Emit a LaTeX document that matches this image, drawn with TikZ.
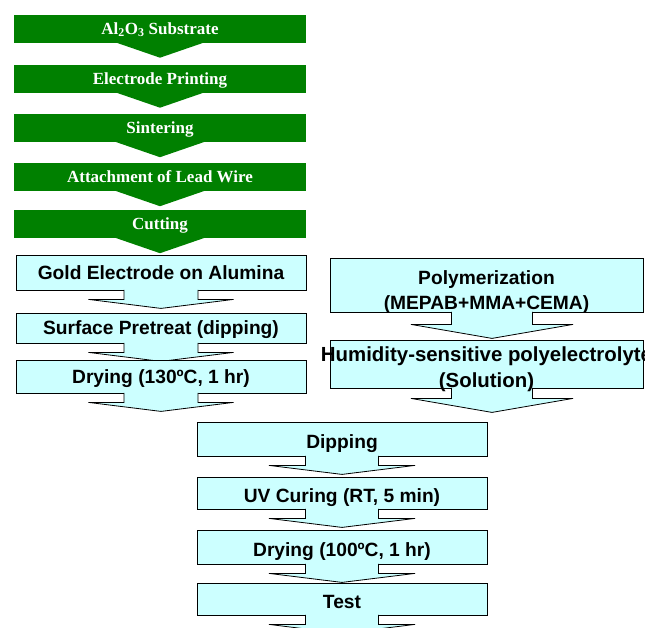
\documentclass[tikz,border=0pt]{standalone}
\usepackage{fontspec}
\setmainfont{Liberation Serif}
\setsansfont{Liberation Sans}
\usepackage[svgnames]{xcolor}
\usetikzlibrary{calc}
\definecolor{StepGreen}{RGB}{0,128,0}
\definecolor{StepCyan}{RGB}{204,255,255}
\tikzstyle{gbox}=[rectangle,fill=StepGreen,minimum width=292pt,minimum height=28pt,inner sep=0pt]
\tikzstyle{gtext}=[text=white,inner sep=0pt,text height=11.3pt,text depth=0pt,font=\fontsize{17}{20}\selectfont\bfseries]
\tikzset{cbox/.style={rectangle,fill=StepCyan,draw=Black,line width=0.8pt,inner sep=0pt},
  ctext/.style={inner sep=0pt,font=\sffamily\bfseries\fontsize{19.2}{25}\selectfont},
  ctextone/.style={ctext,text height=13.75pt,text depth=0pt},
  arrowfill/.style={fill=StepCyan,draw=Black,line width=0.8pt,line join=miter}
}
% block arrow under a box: anchor, stem half width, wing half width, stem drop, tip drop
\newcommand{\callout}[5]{%
  \filldraw[arrowfill] ($(#1)+(-#2,-0.6)$) -- ($(#1)+(-#2,#4)$) -- ($(#1)+(-#3,#4)$)
    -- ($(#1)+(0,#5)$) -- ($(#1)+(#3,#4)$) -- ($(#1)+(#2,#4)$) -- ($(#1)+(#2,-0.6)$);}

\begin{document}
\begin{tikzpicture}[x=1pt,y=-1pt]
  \useasboundingbox (0,0) rectangle (645,627);
  \clip (0,0) rectangle (645,627);

  % substrate preparation
  \foreach \y/\txt [count=\i] in {28.5/{Al\textsubscript{2}O\textsubscript{3} Substrate},78.5/{Electrode Printing},128/{Sintering},177/{Attachment of Lead Wire},224/{Cutting}}
  {
    \node [gbox] (G\i) at (160,\y) {};
    \fill [StepGreen] ($(G\i.south)+(-45,-0.5)$) -- ($(G\i.south)+(0,15)$) -- ($(G\i.south)+(45,-0.5)$) -- cycle;
    \node [gtext] (GT\i) at (G\i.center) {\txt};
  }

  % electrode
  \foreach \y/\h/\txt [count=\i] in {272.5/35/{Gold Electrode on Alumina},328/30/{Surface Pretreat (dipping)},376.5/33/{Drying (130ºC, 1 hr)}}
  {
    \node [cbox,minimum width=290pt,minimum height=\h pt] (L\i) at (161,\y) {};
    \callout{L\i.south}{37}{72.5}{9}{18}
    \node [ctextone] (LT\i) at (L\i.center) {\txt};
  }

  % polyelectrolyte
  \node [cbox,minimum width=313pt,minimum height=54pt] (P) at (486.5,285) {};
  \coordinate (Ps) at ($(P.south)+(5.5,0)$);
  \callout{Ps}{40.5}{81}{12}{26}
  \node [ctext,align=center] (PT) at ($(P.center)+(0,7)$) {Polymerization\\(MEPAB+MMA+CEMA)};

  \node [cbox,minimum width=313pt,minimum height=48pt] (H) at (486.5,364) {};
  \coordinate (Hs) at ($(H.south)+(5.5,0)$);
  \callout{Hs}{40.5}{81}{10}{24}
  \node [ctext,align=center,font=\sffamily\bfseries\fontsize{20.4}{26.5}\selectfont] (HT) at ($(H.center)+(0,5)$) {\makebox[0pt]{Humidity-sensitive polyelectrolyte}\\(Solution)};

  % coating and test
  \foreach \y/\h/\txt [count=\i] in {439/34/{Dipping},493/32/{UV Curing (RT, 5 min)},547/34/{Drying (100ºC, 1 hr)},599/32/{Test}}
  {
    \node [cbox,minimum width=290pt,minimum height=\h pt] (D\i) at (342,\y) {};
    \callout{D\i.south}{36.5}{73}{9}{18}
    \node [ctextone] (DT\i) at ($(D\i.center)+(0,2.5)$) {\txt};
  }
\end{tikzpicture}
\end{document}
